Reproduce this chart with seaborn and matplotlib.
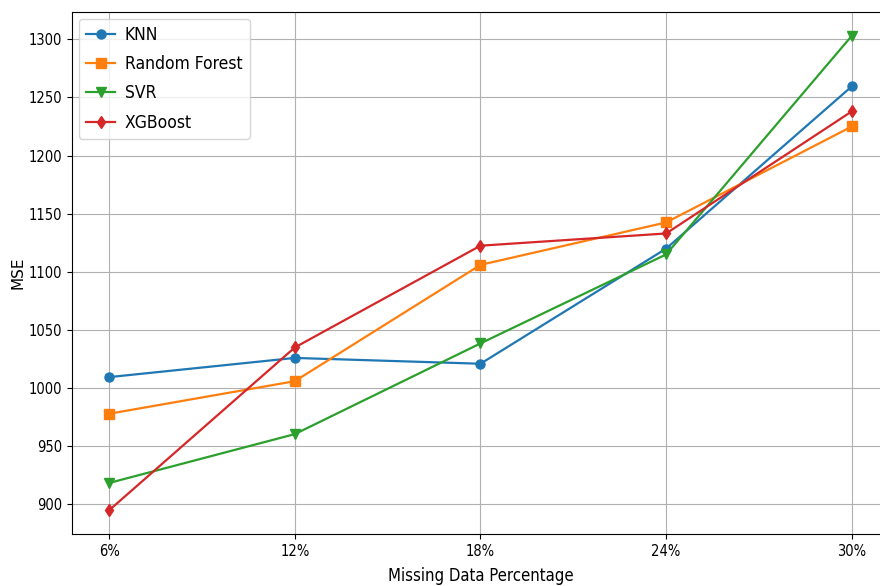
import pandas as pd
import seaborn as sns
import matplotlib.pyplot as plt

# Data
missing_pct = [6, 12, 18, 24, 30]
knn = [1009.5, 1026, 1021, 1120, 1259.5]
random_forest = [978, 1006, 1106, 1142.5, 1225]
svr = [918.5, 960.5, 1038.5, 1115, 1303]
xgboost = [895, 1035, 1122.5, 1133, 1238]

models = ['KNN', 'Random Forest', 'SVR', 'XGBoost']
series = [knn, random_forest, svr, xgboost]
markers = ['o', 's', 'v', 'd']
colors = sns.color_palette('tab10', 4)

narrow = dict(family='DejaVu Sans', stretch='condensed')

fig = plt.figure(figsize=(8.8, 5.86), dpi=100)
ax = fig.add_axes([0.0818, 0.0887, 0.9284, 0.8908])

for name, vals, m, c in zip(models, series, markers, colors):
    sns.lineplot(x=missing_pct, y=vals, marker=m, color=c, label=name,
                 markersize=6.5, markeredgecolor=c, markeredgewidth=1,
                 linewidth=1.6, ax=ax)

ax.grid(True, color='#b0b0b0', linewidth=0.8)
ax.set_xticks(missing_pct)
ax.set_xticklabels([f'{v}%' for v in missing_pct], fontsize=10.5, **narrow)
ax.set_yticks(range(900, 1301, 50))
ax.set_yticklabels([str(v) for v in range(900, 1301, 50)], fontsize=10.5, **narrow)

ax.set_xlabel('Missing Data Percentage', fontsize=12, labelpad=6, **narrow)
ax.set_ylabel('MSE', fontsize=11, labelpad=2, family='DejaVu Sans', stretch='normal')

ax.legend(loc='upper left', prop=dict(size=12.5, **narrow),
          handlelength=1.7, handletextpad=0.55, labelspacing=0.65,
          borderaxespad=0.4)

plt.savefig('out.png', dpi=100)
